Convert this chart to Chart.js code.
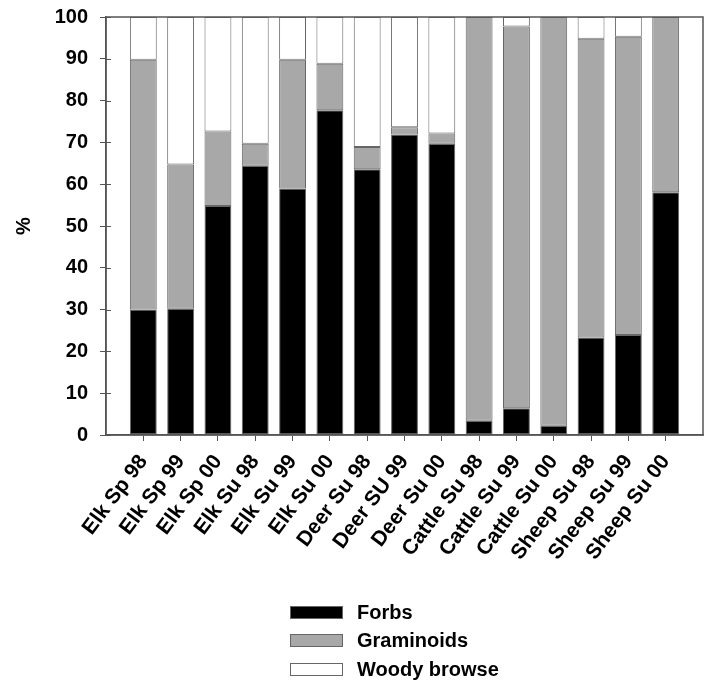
<!DOCTYPE html>
<html>
<head>
<meta charset="utf-8">
<script src="https://cdn.jsdelivr.net/npm/chart.js@4"></script>
<style>
  body { margin: 0; background: #fff; }
  #wrap { position: relative; width: 712px; height: 683px; }
  #legend { position: absolute; left: 290px; top: 598px; font: bold 20px "Liberation Sans", Arial, sans-serif; color: #000; }
  #legend div { display: flex; align-items: center; height: 28.6px; }
  #legend span.box { display: inline-block; width: 51px; height: 11px; border: 1px solid #666; margin-right: 14px; }
</style>
</head>
<body>
<div id="wrap">
  <canvas id="chart" width="712" height="683"></canvas>
  <div id="legend"></div>
</div>
<script>
const categories = ["Elk Sp 98", "Elk Sp 99", "Elk Sp 00", "Elk Su 98", "Elk Su 99", "Elk Su 00",
  "Deer Su 98", "Deer SU 99", "Deer Su 00", "Cattle Su 98", "Cattle Su 99", "Cattle Su 00",
  "Sheep Su 98", "Sheep Su 99", "Sheep Su 00"];

// percent of diet
const forbs = [30, 30.2, 54.8, 64.4, 59, 77.7, 63.6, 71.9, 69.7, 3.4, 6.4, 2.2, 23.3, 23.9, 58.1];
const graminoids = [59.8, 34.5, 17.8, 5.3, 30.8, 11.1, 5.3, 1.7, 2.4, 96.6, 91.3, 97.8, 71.5, 71.4, 41.9];
const woody = [10.2, 35.3, 27.4, 30.3, 10.2, 11.2, 31.1, 26.4, 27.9, 0, 2.3, 0, 5.2, 4.7, 0];

const yTicks = [0, 10, 20, 30, 40, 50, 60, 70, 80, 90, 100];

const font = "'Liberation Sans', Arial, sans-serif";
const axisColor = "#555";

// one empty slot on each side, like the original plot
const labels = ["", ...categories, ""];
const pad = (arr) => [null, ...arr, null];

const series = [
  { label: "Forbs", data: forbs, color: "#000000" },
  { label: "Graminoids", data: graminoids, color: "#a8a8a8" },
  { label: "Woody browse", data: woody, color: "#ffffff" },
];

// box round the plot area, and the inner half of the y ticks
const frame = {
  id: "frame",
  afterDraw(chart) {
    const { ctx, chartArea: a } = chart;
    const y = chart.scales.y;
    ctx.save();
    ctx.strokeStyle = axisColor;
    ctx.lineWidth = 1.5;
    ctx.strokeRect(a.left, a.top, a.right - a.left, a.bottom - a.top);
    ctx.beginPath();
    yTicks.forEach((v) => {
      const py = Math.round(y.getPixelForValue(v)) + 0.5;
      ctx.moveTo(a.left, py);
      ctx.lineTo(a.left + 5, py);
    });
    ctx.lineWidth = 1;
    ctx.stroke();
    ctx.restore();
  },
};

new Chart(document.getElementById("chart"), {
  type: "bar",
  plugins: [frame],
  data: {
    labels: labels,
    datasets: series.map((s) => ({
      label: s.label,
      data: pad(s.data),
      backgroundColor: s.color,
      borderColor: "#666",
      borderWidth: 1,
      borderSkipped: false,
      categoryPercentage: 1,
      barPercentage: 0.72,
    })),
  },
  options: {
    responsive: false,
    animation: false,
    layout: { padding: { top: 17, right: 9, left: 0, bottom: 0 } },
    plugins: { legend: { display: false }, tooltip: { enabled: false } },
    scales: {
      x: {
        stacked: true,
        offset: false,
        grid: {
          offset: false,
          drawOnChartArea: false,
          tickLength: 6,
          tickColor: (c) => (c.index === 0 || c.index === labels.length - 1 ? "transparent" : axisColor),
        },
        border: { color: axisColor, width: 1.5 },
        ticks: {
          autoSkip: false,
          maxRotation: 53,
          minRotation: 53,
          color: "#000",
          padding: 9,
          font: { family: font, size: 21, weight: "bold" },
        },
        afterFit: (s) => { s.height = 248; s.paddingLeft = 0; s.paddingRight = 0; },
      },
      y: {
        stacked: true,
        min: 0,
        max: 100,
        grid: { drawOnChartArea: false, tickLength: 6, tickColor: axisColor },
        border: { color: axisColor, width: 1.5 },
        afterBuildTicks: (s) => { s.ticks = yTicks.map((v) => ({ value: v })); },
        ticks: {
          color: "#000",
          padding: 12,
          font: { family: font, size: 20, weight: "bold" },
        },
        title: {
          display: true,
          text: "%",
          color: "#000",
          padding: { top: 12, bottom: 0 },
          font: { family: font, size: 20, weight: "bold" },
        },
        afterFit: (s) => { s.width = 106; s.paddingTop = 0; s.paddingBottom = 0; },
      },
    },
  },
});

const legend = document.getElementById("legend");
series.forEach((s) => {
  const row = document.createElement("div");
  row.innerHTML = `<span class="box" style="background:${s.color}"></span>${s.label}`;
  legend.appendChild(row);
});
</script>
</body>
</html>
